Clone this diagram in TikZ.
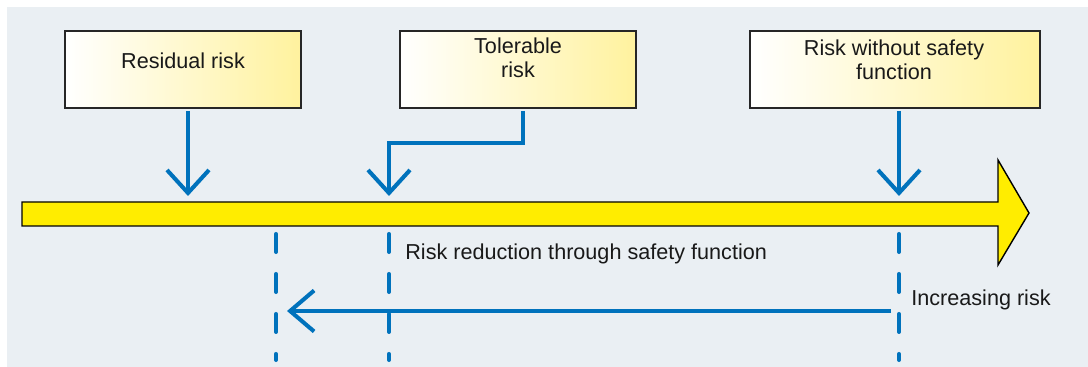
\documentclass[tikz,border=0pt]{standalone}
\usepackage{fontspec}
\setmainfont{Liberation Sans}
\usetikzlibrary{arrows.meta}
\definecolor{bgblue}{RGB}{234,239,243}
\definecolor{riskblue}{RGB}{0,114,188}
\definecolor{baryellow}{RGB}{255,237,0}
\definecolor{boxyellow}{RGB}{255,242,158}

\begin{document}
\begin{tikzpicture}[x=0.02cm,y=-0.02cm,
  every node/.style={font=\fontsize{12.3}{13.6}\selectfont,text=black!90},
  riskbox/.style={draw=black!85,line width=0.8pt,left color=white,right color=boxyellow,
    minimum height=1.54cm,inner sep=0pt},
  flow/.style={draw=riskblue,line width=2.3pt,-{Straight Barb[length=0.46cm,width=0.84cm]}},
  level/.style={draw=riskblue,line width=2.3pt,line cap=round,dash pattern=on 0.36cm off 0.44cm}]
\useasboundingbox (0,0) rectangle (1088,367);
\fill[bgblue] (7,7) rectangle (1088,367);
\draw[line width=0.8pt,fill=baryellow] (22,202) -- (998,202) -- (998,160) -- (1029,213)
  -- (998,265) -- (998,226) -- (22,226) -- cycle;
\node[riskbox,minimum width=4.72cm] (residual) at (183,69.5) {};
\node[riskbox,minimum width=4.72cm] (tolerable) at (518,69.5) {};
\node[riskbox,minimum width=5.8cm] (without) at (895,69.5) {};
\node (residualtxt) at (183,61) {Residual risk};
\node[align=center] (tolerabletxt) at (518,58) {Tolerable\\risk};
\node[align=center] (withouttxt) at (894,59.5) {Risk without safety\\function};
\coordinate (residualout) at (188,111);
\coordinate (tolerableout) at (523,111);
\coordinate (withoutout) at (899,111);
\coordinate (residualin) at (188,196);
\coordinate (tolerablein) at (389,196);
\coordinate (withoutin) at (899,196);
\draw[flow] (residualout) -- (residualin);
\draw[flow] (tolerableout) -- (523,143) -| (tolerablein);
\draw[flow] (withoutout) -- (withoutin);
\coordinate (lowtop) at (276,234);
\coordinate (lowbot) at (276,360);
\coordinate (midtop) at (389,234);
\coordinate (midbot) at (389,360);
\coordinate (hightop) at (899,234);
\coordinate (highbot) at (899,360);
\draw[level] (lowtop) -- (lowbot);
\draw[level] (midtop) -- (midbot);
\draw[level] (hightop) -- (highbot);
\coordinate (reducefrom) at (891,311);
\coordinate (reduceto) at (287,311);
\draw[flow,-{Straight Barb[length=0.48cm,width=0.82cm]}] (reducefrom) -- (reduceto);
\node[anchor=base west,inner sep=0pt] (reducetxt) at (405,260) {Risk reduction through safety function};
\node[anchor=base west,inner sep=0pt] (increasetxt) at (911,306) {Increasing risk};
\end{tikzpicture}
\end{document}
